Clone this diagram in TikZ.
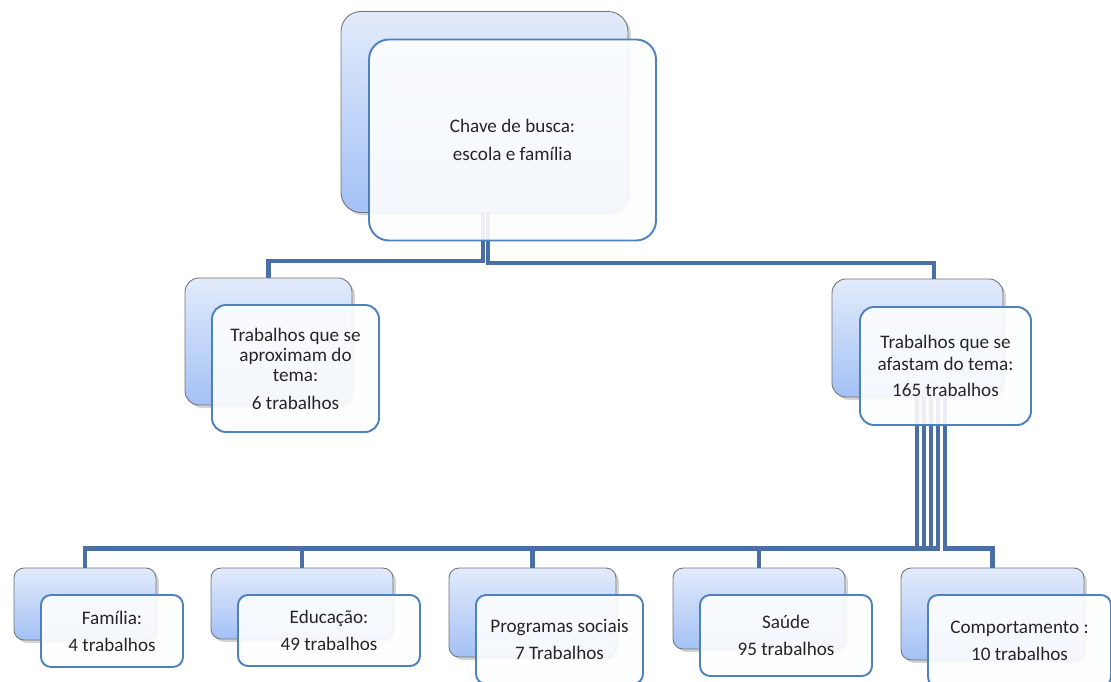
\documentclass[tikz,border=0pt]{standalone}
\usepackage{fontspec}
\setmainfont{Carlito}
\usetikzlibrary{shadows}
\newcommand{\pxl}{0.02cm}
\definecolor{linkblue}{HTML}{4A6FA5}
\definecolor{frameblue}{HTML}{4F81BD}
\definecolor{backtop}{HTML}{E2EBFB}
\definecolor{backbot}{HTML}{A3C1F5}
\definecolor{textgray}{HTML}{262626}
\begin{document}
\begin{tikzpicture}[x=\pxl,y=-\pxl,
  backbox/.style={draw=black!55, line width=0.5pt, rounded corners=#1,
    top color=backtop, bottom color=backbot,
    drop shadow={shadow xshift=1.6pt, shadow yshift=-1.6pt, opacity=0.35}},
  backbox/.default=0.2cm,
  frontbox/.style={draw=frameblue, line width=1.1pt, rounded corners=#1,
    fill=white!99!frameblue, fill opacity=0.9, text opacity=1,
    text=textgray, align=center, inner sep=0pt,
    font=\fontsize{10.9}{11.4}\selectfont},
  frontbox/.default=0.2cm,
  link/.style={draw=linkblue, line width=2.4pt}]
\useasboundingbox (0,0) rectangle (1111,682);

%caixas de fundo
\node[backbox=0.4cm, minimum width=287*\pxl, minimum height=201*\pxl] (chaveB) at (484.5,112) {};
\node[backbox=0.28cm, minimum width=167*\pxl, minimum height=127*\pxl] (aproxB) at (268.5,341.5) {};
\node[backbox=0.28cm, minimum width=171*\pxl, minimum height=118*\pxl] (afastB) at (917.5,338) {};
\node[backbox, minimum width=142*\pxl, minimum height=72*\pxl] (famB) at (85,604) {};
\node[backbox, minimum width=182*\pxl, minimum height=71*\pxl] (eduB) at (302,603.5) {};
\node[backbox, minimum width=167*\pxl, minimum height=89*\pxl] (progB) at (532.5,612.5) {};
\node[backbox, minimum width=172*\pxl, minimum height=81*\pxl] (saudeB) at (759,608.5) {};
\node[backbox, minimum width=183*\pxl, minimum height=92*\pxl] (compB) at (992.5,614) {};
%fin

%ligações
\draw[link] ([xshift=-1.5*\pxl]chaveB.south) -- ++(0,48) -| (aproxB.north);
\draw[link] ([xshift=3.5*\pxl]chaveB.south) -- ++(0,50) -| ([xshift=16.5*\pxl]afastB.north);
\foreach \k/\alvo in {0/famB,1/eduB,2/progB,3/saudeB,4/compB}
  \draw[link] ([xshift={(-0.5+7*\k)*\pxl}]afastB.south) -- ++(0,151) -| (\alvo.north);
%fin

%caixas da frente
\node[frontbox=0.4cm, minimum width=287*\pxl, minimum height=201*\pxl] (chave) at ([shift={(28,28)}]chaveB.center)
  {Chave de busca:\\[4.5pt]escola e família};
\node[frontbox=0.28cm, minimum width=167*\pxl, minimum height=127*\pxl] (aprox) at ([shift={(27,27)}]aproxB.center)
  {Trabalhos que se\\aproximam do\\tema:\\[4.5pt]6 trabalhos};
\node[frontbox=0.28cm, minimum width=171*\pxl, minimum height=118*\pxl] (afast) at ([shift={(28,28)}]afastB.center)
  {Trabalhos que se\\[1pt]afastam do tema:\\[3.5pt]165 trabalhos};
\node[frontbox, minimum width=142*\pxl, minimum height=72*\pxl] (fam) at ([shift={(27,27)}]famB.center)
  {Família:\\[4pt]4 trabalhos};
\node[frontbox, minimum width=182*\pxl, minimum height=71*\pxl] (edu) at ([shift={(27,27)}]eduB.center)
  {Educação:\\[4pt]49 trabalhos};
\node[frontbox, minimum width=167*\pxl, minimum height=89*\pxl] (prog) at ([shift={(27,27)}]progB.center)
  {Programas sociais\\[4pt]7 Trabalhos};
\node[frontbox, minimum width=172*\pxl, minimum height=81*\pxl] (saude) at ([shift={(27,27)}]saudeB.center)
  {Saúde\\[4pt]95 trabalhos};
\node[frontbox, minimum width=183*\pxl, minimum height=92*\pxl] (comp) at ([shift={(27,27)}]compB.center)
  {Comportamento :\\[4pt]10 trabalhos};
%fin
\end{tikzpicture}
\end{document}
